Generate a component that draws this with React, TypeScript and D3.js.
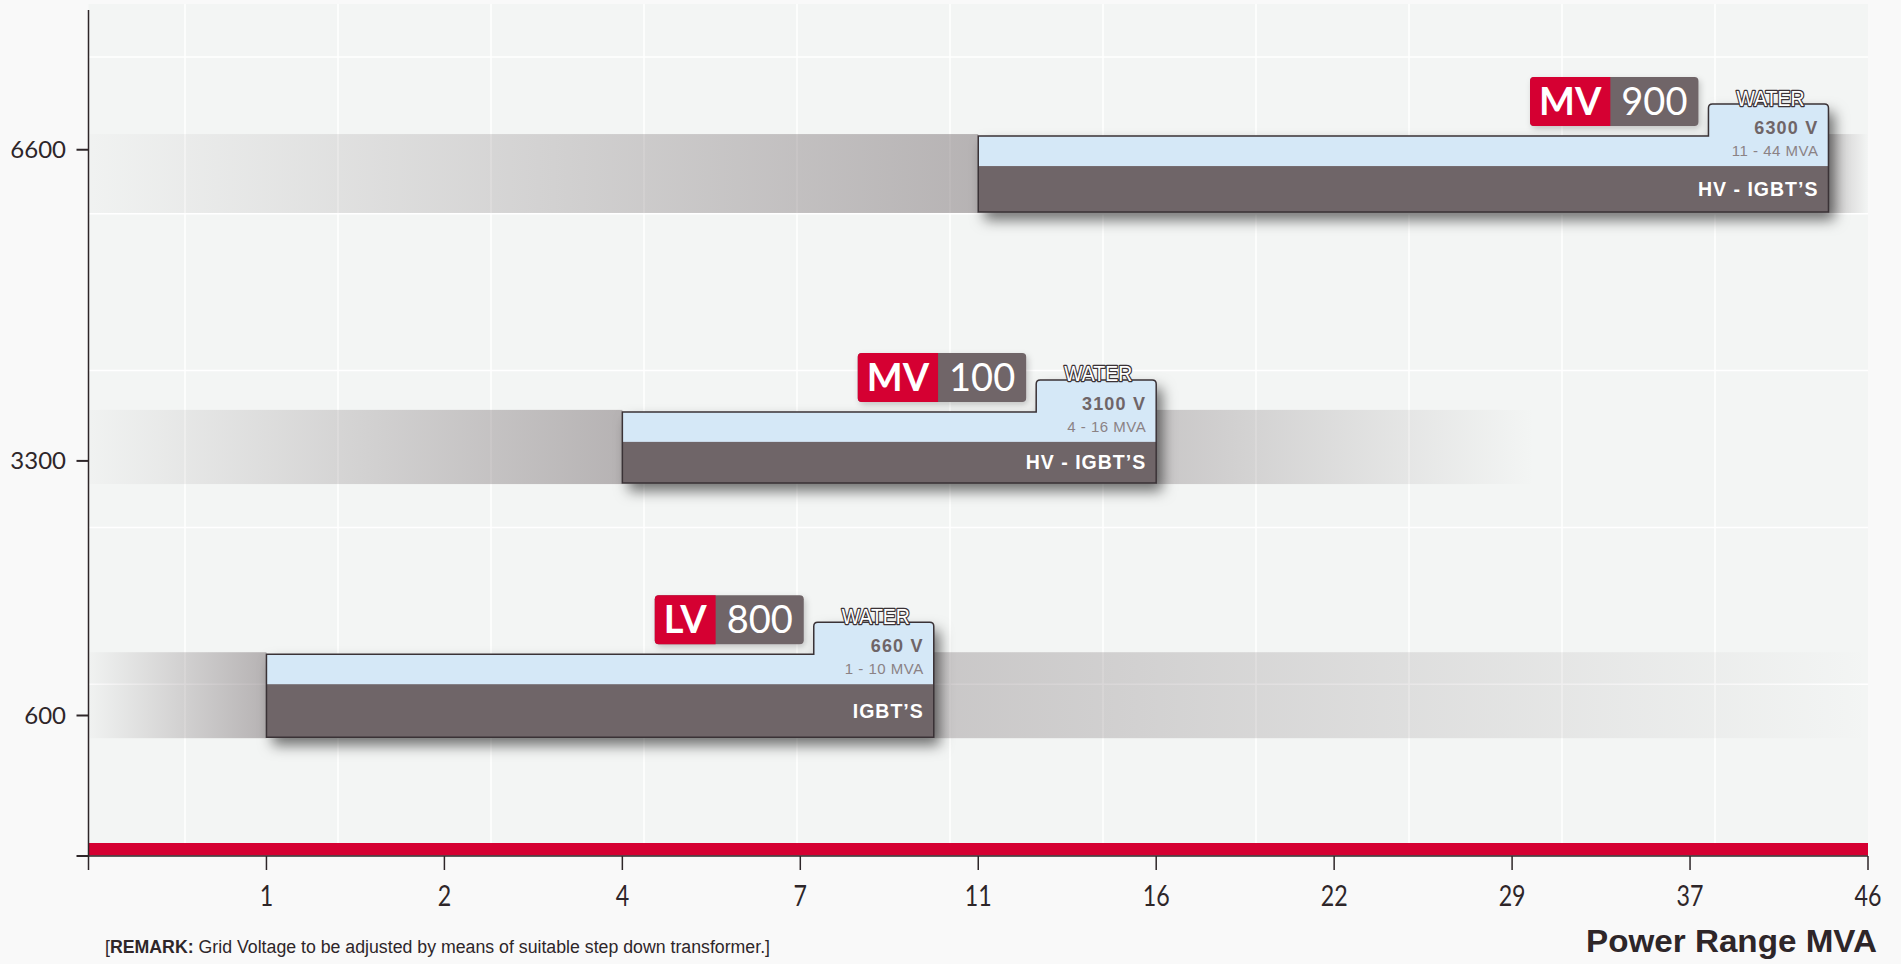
import { useEffect, useRef } from "react";
import * as d3 from "d3";

// x axis: power range ticks (MVA), evenly spaced on the axis
const mvaTicks = [0, 1, 2, 4, 7, 11, 16, 22, 29, 37, 46];
// y axis: grid voltage ticks
const voltTicks = [600, 3300, 6600];

// one entry per drive family
const families = ["LV", "MV", "MV"];
const models = ["800", "100", "900"];
const voltages = ["660 V", "3100 V", "6300 V"];
const mvaFrom = [1, 4, 11];
const mvaTo = [10, 16, 44];
const bandTo = [46, 30, 46];
const voltLow = [370, 3065, 5940];
const voltHigh = [1250, 3820, 6745];
const cooling = ["WATER", "WATER", "WATER"];
const semis = ["IGBT\u2019S", "HV - IGBT\u2019S", "HV - IGBT\u2019S"];

const W = 1901;
const H = 964;

const SANS = "'Liberation Sans', Arial, sans-serif";
const LATO = "Lato, 'Open Sans', sans-serif";

const RED = "#d50032";
const GREY = "#6f6568";
const BLUE = "#d5e8f7";
const INK = "#2e2629";

export default function App() {
  const svgRef = useRef<SVGSVGElement>(null);

  useEffect(() => {
    if (!svgRef.current) return;
    const svg = d3.select(svgRef.current);
    svg.selectAll("*").remove();

    const left = 88.5;
    const right = 1868;
    const top = 4;
    const bottom = 856;

    const step = (right - left) / (mvaTicks.length - 1);
    const x = d3
      .scaleLinear()
      .domain(mvaTicks)
      .range(mvaTicks.map((_, i) => left + i * step));

    const y = d3.scaleLinear().domain([-890, 8135]).range([bottom, 5]);

    const defs = svg.append("defs");

    const gl = defs.append("linearGradient").attr("id", "bandL").attr("x1", 0).attr("x2", 1).attr("y1", 0).attr("y2", 0);
    gl.append("stop").attr("offset", 0).attr("stop-color", GREY).attr("stop-opacity", 0.02);
    gl.append("stop").attr("offset", 1).attr("stop-color", GREY).attr("stop-opacity", 0.46);

    const gr = defs.append("linearGradient").attr("id", "bandR").attr("x1", 0).attr("x2", 1).attr("y1", 0).attr("y2", 0);
    gr.append("stop").attr("offset", 0).attr("stop-color", GREY).attr("stop-opacity", 0.32);
    gr.append("stop").attr("offset", 1).attr("stop-color", GREY).attr("stop-opacity", 0.0);

    const f = defs
      .append("filter")
      .attr("id", "shadow")
      .attr("x", "-10%")
      .attr("y", "-40%")
      .attr("width", "130%")
      .attr("height", "200%");
    f.append("feDropShadow")
      .attr("dx", 6)
      .attr("dy", 8)
      .attr("stdDeviation", 7)
      .attr("flood-color", "#000")
      .attr("flood-opacity", 0.55);

    const fs = defs
      .append("filter")
      .attr("id", "shadowSmall")
      .attr("x", "-20%")
      .attr("y", "-30%")
      .attr("width", "150%")
      .attr("height", "180%");
    fs.append("feDropShadow")
      .attr("dx", 2)
      .attr("dy", 3)
      .attr("stdDeviation", 3)
      .attr("flood-color", "#000")
      .attr("flood-opacity", 0.2);

    // page + plot background
    svg.append("rect").attr("width", W).attr("height", H).attr("fill", "#f9f9f9");
    svg
      .append("rect")
      .attr("x", left)
      .attr("y", top)
      .attr("width", right - left)
      .attr("height", 843 - top)
      .attr("fill", "#f3f5f4");

    // white background grid
    const grid = svg.append("g").attr("stroke", "#ffffff").attr("stroke-width", 1.5);
    d3.range(right - 153, left, -153).forEach((gx) => {
      grid.append("line").attr("x1", gx).attr("x2", gx).attr("y1", top).attr("y2", 843);
    });
    d3.range(841 - 156.8, top, -156.8).forEach((gy) => {
      grid.append("line").attr("x1", left).attr("x2", right).attr("y1", gy).attr("y2", gy);
    });

    const rows = d3.range(families.length);

    // grey range bands behind the bars
    rows.forEach((i) => {
      const t = y(voltHigh[i]) - 2;
      const h = y(voltLow[i]) - t + 1;
      svg
        .append("rect")
        .attr("x", left)
        .attr("y", t)
        .attr("width", x(mvaFrom[i]) - left)
        .attr("height", h)
        .attr("fill", "url(#bandL)");
      svg
        .append("rect")
        .attr("x", x(mvaTo[i]))
        .attr("y", t)
        .attr("width", x(bandTo[i]) - x(mvaTo[i]))
        .attr("height", h)
        .attr("fill", "url(#bandR)");
    });

    // red base strip
    svg
      .append("rect")
      .attr("x", left)
      .attr("y", 843)
      .attr("width", right - left)
      .attr("height", 12.5)
      .attr("fill", RED);

    // axes
    const axes = svg.append("g").attr("stroke", INK).attr("fill", "none");
    axes.append("line").attr("x1", left).attr("x2", left).attr("y1", 10).attr("y2", bottom).attr("stroke-width", 1.5);
    axes.append("line").attr("x1", left).attr("x2", right).attr("y1", bottom).attr("y2", bottom).attr("stroke-width", 1.5);
    axes.append("line").attr("x1", left - 12).attr("x2", left).attr("y1", bottom).attr("y2", bottom).attr("stroke-width", 2);
    voltTicks.forEach((v) => {
      axes.append("line").attr("x1", left - 12).attr("x2", left).attr("y1", y(v)).attr("y2", y(v)).attr("stroke-width", 2);
      svg
        .append("text")
        .attr("x", 66)
        .attr("y", y(v) + 8.5)
        .attr("text-anchor", "end")
        .style("font-family", LATO)
        .style("font-size", "24px")
        .style("fill", INK)
        .text(v);
    });
    mvaTicks.forEach((m) => {
      axes.append("line").attr("x1", x(m)).attr("x2", x(m)).attr("y1", bottom).attr("y2", 870).attr("stroke-width", 1.5);
      if (m === 0) return;
      svg
        .append("text")
        .attr("transform", `translate(${x(m)},906) scale(0.8,1)`)
        .attr("text-anchor", "middle")
        .style("font-family", LATO)
        .style("font-size", "29px")
        .style("fill", INK)
        .text(m);
    });

    // bars
    rows.forEach((i) => {
      const x0 = x(mvaFrom[i]);
      const x1 = x(mvaTo[i]);
      const bt = y(voltHigh[i]);
      const bb = y(voltLow[i]);
      const div = bt + 30;
      const sx = x1 - 120;
      const st = bt - 32;
      const r = 4;
      const shape = `M${x0},${bt}H${sx}V${st + r}Q${sx},${st} ${sx + r},${st}H${x1 - r}Q${x1},${st} ${x1},${st + r}V${bb}H${x0}Z`;

      const g = svg.append("g");
      g.append("path").attr("d", shape).attr("fill", BLUE).attr("filter", "url(#shadow)");
      g.append("rect")
        .attr("x", x0)
        .attr("y", div)
        .attr("width", x1 - x0)
        .attr("height", bb - div)
        .attr("fill", GREY);
      g.append("path").attr("d", shape).attr("fill", "none").attr("stroke", "#3a3236").attr("stroke-width", 1.5);

      g.append("text")
        .attr("x", sx + 62)
        .attr("y", st + 1.5)
        .attr("text-anchor", "middle")
        .attr("textLength", 68)
        .attr("lengthAdjust", "spacingAndGlyphs")
        .style("font-family", SANS)
        .style("font-size", "22px")
        .style("fill", "#ffffff")
        .style("stroke", "#3a3236")
        .style("stroke-width", "2.6px")
        .style("paint-order", "stroke")
        .style("stroke-linejoin", "round")
        .text(cooling[i]);

      g.append("text")
        .attr("x", x1 - 10)
        .attr("y", st + 30)
        .attr("text-anchor", "end")
        .style("font-family", SANS)
        .style("font-weight", "700")
        .style("font-size", "18px")
        .style("letter-spacing", "1.2px")
        .style("fill", GREY)
        .text(voltages[i]);

      g.append("text")
        .attr("x", x1 - 10)
        .attr("y", bt + 20)
        .attr("text-anchor", "end")
        .style("font-family", SANS)
        .style("font-size", "15px")
        .style("letter-spacing", "0.5px")
        .style("fill", "#8b8285")
        .text(`${mvaFrom[i]} - ${mvaTo[i]} MVA`);

      g.append("text")
        .attr("x", x1 - 10)
        .attr("y", (div + bb) / 2 + 7)
        .attr("text-anchor", "end")
        .style("font-family", SANS)
        .style("font-weight", "700")
        .style("font-size", "19.5px")
        .style("letter-spacing", "1px")
        .style("fill", "#ffffff")
        .text(semis[i]);

      // family / model badge
      const boxB = bt - 10;
      const boxT = boxB - 49;
      const boxR = sx - 10;
      const badge = svg.append("g");
      const famT = badge
        .append("text")
        .style("font-family", LATO)
        .style("font-weight", "700")
        .style("font-size", "38px")
        .style("fill", "#ffffff")
        .text(families[i]);
      const modT = badge
        .append("text")
        .style("font-family", LATO)
        .style("font-weight", "400")
        .style("font-size", "38px")
        .style("fill", "#ffffff")
        .text(models[i]);
      const fw = (famT.node() as SVGTextElement).getComputedTextLength();
      const mw = (modT.node() as SVGTextElement).getComputedTextLength();
      const redW = fw + 18;
      const greyW = mw + 22;
      const bx = boxR - redW - greyW;
      const mid = bx + redW;
      badge
        .insert("rect", "text")
        .attr("x", bx)
        .attr("y", boxT)
        .attr("width", redW + greyW)
        .attr("height", 49)
        .attr("rx", 4)
        .attr("fill", GREY)
        .attr("filter", "url(#shadowSmall)");
      badge
        .insert("path", "text")
        .attr("d", `M${bx + r},${boxT}H${mid}V${boxT + 49}H${bx + r}Q${bx},${boxT + 49} ${bx},${boxT + 49 - r}V${boxT + r}Q${bx},${boxT} ${bx + r},${boxT}Z`)
        .attr("fill", RED);
      famT.attr("x", bx + redW / 2).attr("y", boxT + 38).attr("text-anchor", "middle");
      modT.attr("x", mid + greyW / 2).attr("y", boxT + 38).attr("text-anchor", "middle");
    });

    // captions
    svg
      .append("text")
      .attr("x", 1877)
      .attr("y", 952)
      .attr("text-anchor", "end")
      .attr("textLength", 291)
      .attr("lengthAdjust", "spacingAndGlyphs")
      .style("font-family", SANS)
      .style("font-weight", "700")
      .style("font-size", "31px")
      .style("fill", INK)
      .text("Power Range MVA");

    const remark = svg
      .append("text")
      .attr("x", 105)
      .attr("y", 953)
      .attr("textLength", 665)
      .attr("lengthAdjust", "spacingAndGlyphs")
      .style("font-family", SANS)
      .style("font-size", "18px")
      .style("fill", INK);
    remark.append("tspan").text("[");
    remark.append("tspan").style("font-weight", "700").text("REMARK:");
    remark.append("tspan").text(" Grid Voltage to be adjusted by means of suitable step down transformer.]");
  }, []);

  return (
    <svg
      ref={svgRef}
      width={W}
      height={H}
      style={{ position: "absolute", left: 0, top: 0, display: "block" }}
    />
  );
}
